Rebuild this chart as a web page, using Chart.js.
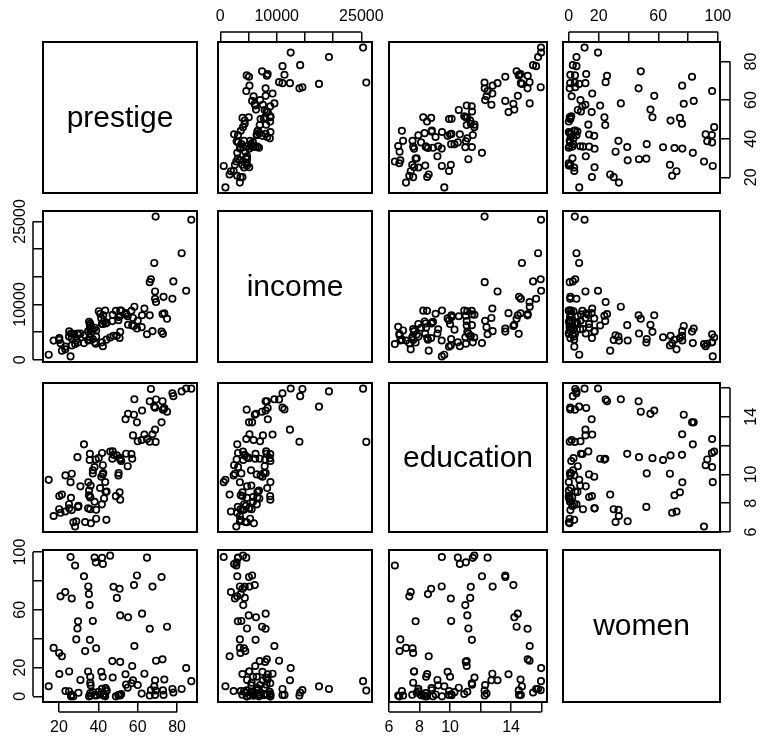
<!DOCTYPE html>
<html>
<head>
<meta charset="utf-8">
<script src="https://cdn.jsdelivr.net/npm/chart.js@4.4.1/dist/chart.umd.min.js"></script>
<style>
html, body { margin: 0; padding: 0; background: #fff; }
#wrap { position: relative; width: 761px; height: 744px; overflow: hidden; }
#wrap canvas { position: absolute; }
</style>
</head>
<body>
<div id="wrap"></div>
<script>
// Prestige of Canadian occupations (102 rows)
const varNames = ['prestige', 'income', 'education', 'women'];

const prestige = [68.8, 69.1, 63.4, 56.8, 73.5, 77.6, 72.6, 78.1, 73.1, 68.8, 62.0, 60.0, 53.8, 62.2, 74.9, 55.1, 82.3, 58.1, 58.3, 72.8,
  84.6, 59.6, 66.1, 87.2, 66.7, 68.4, 64.7, 34.9, 72.1, 69.3, 67.5, 57.2, 57.6, 54.1, 46.0, 41.9, 49.4, 42.3, 47.7, 30.9,
  32.7, 38.7, 36.1, 37.2, 38.1, 29.4, 51.1, 35.7, 35.6, 41.5, 40.2, 26.5, 14.8, 23.3, 47.3, 47.1, 51.1, 43.5, 51.6, 29.7,
  20.2, 54.9, 25.9, 20.8, 17.3, 20.1, 44.1, 21.5, 35.3, 38.9, 25.2, 34.8, 23.2, 33.3, 28.8, 42.5, 44.2, 35.9, 41.8, 35.9,
  43.7, 50.8, 37.2, 28.2, 38.1, 50.3, 27.3, 40.9, 50.2, 51.1, 38.9, 36.2, 29.9, 42.9, 26.5, 66.1, 48.9, 35.9, 25.1, 26.1,
  42.2, 35.2];

const income = [12351, 25879, 9271, 8865, 8403, 11030, 8258, 14163, 11377, 11023, 5902, 7059, 8425, 8049, 7405, 6336, 19263, 6112, 9593, 4686,
  12480, 5648, 8034, 25308, 14558, 17498, 4614, 3485, 5092, 10432, 5180, 6197, 7562, 8206, 4036, 3148, 4348, 2448, 4330, 4761,
  3016, 2901, 5511, 3739, 3161, 4741, 5052, 6259, 4075, 7482, 8780, 2594, 918, 2370, 8131, 6992, 7956, 8895, 8891, 3116,
  3930, 7869, 611, 3000, 3472, 3582, 3643, 1656, 6860, 4199, 5134, 5134, 1890, 4443, 3485, 8043, 6686, 6565, 6477, 5811,
  6573, 3942, 5449, 2847, 5795, 7716, 4696, 8316, 7147, 8880, 5299, 5959, 4549, 6928, 3910, 14032, 8845, 5562, 4224, 4753,
  6462, 3617];

const education = [13.11, 12.26, 12.77, 11.42, 14.62, 15.64, 15.09, 15.44, 14.52, 14.64, 12.39, 12.30, 13.83, 14.44, 14.36, 14.21, 15.77, 14.15, 15.22, 14.50,
  15.97, 13.62, 15.08, 15.96, 15.94, 14.71, 12.46, 9.45, 13.62, 15.21, 12.79, 11.09, 12.71, 11.44, 11.59, 11.49, 11.32, 10.64, 11.36, 9.17,
  12.09, 11.04, 9.22, 10.07, 10.51, 11.20, 11.13, 11.43, 11.00, 9.84, 11.13, 10.05, 9.62, 9.93, 11.60, 11.09, 11.03, 9.47, 10.93, 7.74,
  8.50, 10.57, 9.46, 7.33, 7.11, 7.58, 6.84, 8.60, 8.88, 7.54, 7.64, 7.64, 7.42, 6.69, 6.74, 10.09, 8.81, 8.40, 7.92, 8.43,
  8.78, 8.76, 10.29, 6.38, 8.10, 10.10, 6.67, 9.05, 9.93, 8.24, 6.92, 6.60, 7.81, 8.33, 7.52, 12.27, 8.49, 7.58, 7.93, 8.37,
  10.00, 8.55];

const women = [11.16, 4.02, 15.70, 9.11, 11.68, 5.13, 25.65, 2.69, 1.03, 0.94, 1.91, 7.83, 15.33, 57.31, 48.28, 54.77, 5.13, 77.10, 34.89, 4.14,
  19.59, 83.78, 46.80, 10.56, 4.32, 6.91, 96.12, 76.14, 82.66, 24.71, 76.04, 21.03, 11.15, 8.13, 97.51, 95.97, 68.24, 91.76, 75.92, 11.37,
  83.19, 92.86, 7.62, 52.27, 96.14, 47.06, 56.10, 39.17, 63.23, 17.04, 3.16, 67.82, 7.00, 3.69, 13.09, 24.44, 23.88, 0.00, 1.65, 52.00,
  15.51, 6.01, 96.53, 69.31, 33.57, 30.08, 3.60, 27.75, 0.00, 33.30, 17.26, 17.26, 72.24, 31.36, 39.48, 1.50, 4.28, 2.30, 5.17, 13.62,
  5.78, 74.54, 2.92, 90.67, 0.81, 0.78, 0.00, 1.34, 0.99, 0.65, 0.56, 0.52, 2.46, 0.61, 1.09, 0.58, 0.00, 9.47, 3.59, 0.00,
  13.58, 70.87];

const series = [prestige, income, education, women];

// tick marks and the labels R kept (overlapping ones were dropped)
const prestigeTicks = [20, 40, 60, 80];
const incomeTicks = [0, 5000, 10000, 15000, 20000, 25000];
const educationTicks = [6, 8, 10, 12, 14, 16];
const womenTicks = [0, 20, 40, 60, 80, 100];
const tickValues = [prestigeTicks, incomeTicks, educationTicks, womenTicks];

const prestigeLabels = [20, 40, 60, 80];
const incomeLabels = [0, 10000, 25000];
const educationLabels = [6, 8, 10, 14];
const womenLabels = [0, 20, 60, 100];
const tickLabels = [prestigeLabels, incomeLabels, educationLabels, womenLabels];

// panel boxes in page pixels
const colX = [[43, 197], [218, 372], [389, 547], [563, 720]];
const rowY = [[42, 193], [211, 362], [383, 532], [550, 702]];
const M = 40;      // room around each box inside its canvas
const TICK = 10;   // tick length
const FONT = '"Liberation Sans", Arial, Helvetica, sans-serif';

Chart.defaults.font.family = FONT;
Chart.defaults.color = '#000';

// R style range: data range extended by 4% each side
function rRange(v) {
  const lo = Math.min(...v), hi = Math.max(...v), d = (hi - lo) * 0.04;
  return [lo - d, hi + d];
}

const pairsPanel = {
  id: 'pairsPanel',
  afterDatasetsDraw(chart, args, o) {
    const ctx = chart.ctx, a = chart.chartArea;
    ctx.save();
    ctx.strokeStyle = '#000';
    ctx.fillStyle = '#000';
    ctx.lineWidth = 2;
    ctx.strokeRect(a.left, a.top, a.right - a.left, a.bottom - a.top);

    if (o.label) {
      ctx.font = '30px ' + FONT;
      ctx.textAlign = 'center';
      ctx.textBaseline = 'middle';
      ctx.fillText(o.label, (a.left + a.right) / 2, (a.top + a.bottom) / 2 + 1);
    }

    ctx.lineWidth = 1.5;
    if (o.xSide) {
      const s = chart.scales.x, t = s.ticks;
      const p0 = s.getPixelForValue(t[0].value), p1 = s.getPixelForValue(t[t.length - 1].value);
      const y = o.xSide === 'top' ? a.top - TICK : a.bottom + TICK;
      ctx.beginPath(); ctx.moveTo(p0, y); ctx.lineTo(p1, y); ctx.stroke();
    }
    if (o.ySide) {
      const s = chart.scales.y, t = s.ticks;
      const p0 = s.getPixelForValue(t[0].value), p1 = s.getPixelForValue(t[t.length - 1].value);
      const x = o.ySide === 'left' ? a.left - TICK : a.right + TICK;
      ctx.beginPath(); ctx.moveTo(x, p0); ctx.lineTo(x, p1); ctx.stroke();
      // labels parallel to the axis, read bottom to top
      ctx.font = '16px ' + FONT;
      ctx.textAlign = 'center';
      ctx.textBaseline = 'middle';
      const cx = o.ySide === 'left' ? x - 12 : x + 22;
      o.yLabels.forEach(v => {
        ctx.save();
        ctx.translate(cx, s.getPixelForValue(v));
        ctx.rotate(-Math.PI / 2);
        ctx.fillText(String(v), 0, 0);
        ctx.restore();
      });
    }
    ctx.restore();
  }
};

const wrap = document.getElementById('wrap');

for (let i = 0; i < 4; i++) {
  for (let j = 0; j < 4; j++) {
    const [x0, x1] = colX[j], [y0, y1] = rowY[i];
    const cv = document.createElement('canvas');
    cv.width = x1 - x0 + 2 * M;
    cv.height = y1 - y0 + 2 * M;
    cv.style.left = (x0 - M) + 'px';
    cv.style.top = (y0 - M) + 'px';
    wrap.appendChild(cv);

    const xSide = (i === 0 && j % 2 === 1) ? 'top' : (i === 3 && j % 2 === 0) ? 'bottom' : null;
    const ySide = (j === 0 && i % 2 === 1) ? 'left' : (j === 3 && i % 2 === 0) ? 'right' : null;
    const diag = i === j;
    const xr = rRange(series[j]), yr = rRange(series[i]);

    const points = diag ? [] : series[j].map((v, k) => ({ x: v, y: series[i][k] }));
    const xLabs = tickLabels[j];

    new Chart(cv, {
      type: 'scatter',
      data: {
        datasets: [{
          data: points,
          pointStyle: 'circle',
          pointRadius: 3.2,
          pointBorderWidth: 1.7,
          borderColor: '#000',
          backgroundColor: 'rgba(0,0,0,0)',
          clip: false
        }]
      },
      options: {
        responsive: false,
        animation: false,
        events: [],
        devicePixelRatio: 1,
        layout: {
          padding: {
            top: xSide === 'top' ? 0 : M,
            bottom: xSide === 'bottom' ? 0 : M,
            left: ySide === 'left' ? 0 : M,
            right: ySide === 'right' ? 0 : M
          }
        },
        scales: {
          x: {
            type: 'linear',
            display: !!xSide,
            position: xSide || 'bottom',
            min: xr[0],
            max: xr[1],
            afterBuildTicks: s => { s.ticks = tickValues[j].map(v => ({ value: v })); },
            afterFit: s => { s.height = xSide ? M : 0; },
            grid: { display: true, drawOnChartArea: false, drawTicks: true, tickLength: TICK, color: '#000', lineWidth: 1.5 },
            border: { display: false },
            ticks: {
              autoSkip: false,
              maxRotation: 0,
              minRotation: 0,
              padding: 6,
              color: '#000',
              font: { size: 16 },
              callback: v => xLabs.includes(v) ? String(v) : ''
            }
          },
          y: {
            type: 'linear',
            display: !!ySide,
            position: ySide || 'left',
            min: yr[0],
            max: yr[1],
            afterBuildTicks: s => { s.ticks = tickValues[i].map(v => ({ value: v })); },
            afterFit: s => { s.width = ySide ? M : 0; },
            grid: { display: true, drawOnChartArea: false, drawTicks: true, tickLength: TICK, color: '#000', lineWidth: 1.5 },
            border: { display: false },
            ticks: { display: false }
          }
        },
        plugins: {
          legend: { display: false },
          tooltip: { enabled: false },
          pairsPanel: {
            label: diag ? varNames[i] : null,
            xSide: xSide,
            ySide: ySide,
            yLabels: tickLabels[i]
          }
        }
      },
      plugins: [pairsPanel]
    });
  }
}
</script>
</body>
</html>
